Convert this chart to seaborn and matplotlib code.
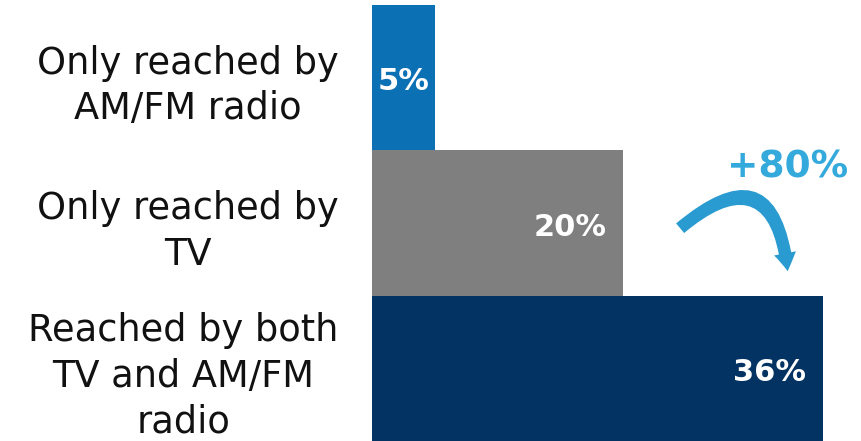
import matplotlib
matplotlib.use("Agg")
import matplotlib.pyplot as plt
import seaborn as sns
import pandas as pd
from matplotlib.patches import FancyArrowPatch

categories = ["Only reached by\nAM/FM radio", "Only reached by\nTV", "Reached by both\nTV and AM/FM\nradio"]
values = [5, 20, 36]
value_labels = ["5%", "20%", "36%"]
bar_colors = ["#0B70B4", "#7F7F7F", "#023362"]
change_label = "+80%"

df = pd.DataFrame({"category": categories, "value": values})

sns.set_style("white")
plt.rcParams["font.family"] = ["DejaVu Sans"]

fig = plt.figure(figsize=(8.62, 4.41), dpi=100)
ax = fig.add_axes([372 / 862, 0, 1 - 372 / 862, 436 / 441])

sns.barplot(data=df, x="value", y="category", hue="category", palette=bar_colors,
            orient="h", width=1.0, legend=False, ax=ax, saturation=1, linewidth=0)

ax.set_xlim(0, (862 - 372) / 12.53)
ax.set_ylim(2.5, -0.5)
ax.set_xlabel("")
ax.set_ylabel("")
ax.set_xticks([])
for s in ax.spines.values():
    s.set_visible(False)
ax.tick_params(axis="y", length=0, pad=24)
for lab in ax.get_yticklabels():
    lab.set_fontsize(26.5)
    lab.set_multialignment("center")
    lab.set_linespacing(1.3)
    lab.set_color("#111111")

offsets = [-5, -16, -17]
for i, (v, t) in enumerate(zip(values, value_labels)):
    ax.annotate(t, xy=(v, i), xytext=(offsets[i] * 0.72, -3), textcoords="offset points",
                ha="right", va="center", color="white", fontsize=22, fontweight="bold")

fig.text(788 / 862, 1 - 168 / 441, change_label, ha="center", va="center",
         color="#33A9DC", fontsize=27, fontweight="bold")

arrow = FancyArrowPatch((678 / 862, 1 - 230 / 441), (788 / 862, 1 - 274 / 441),
                        transform=fig.transFigure,
                        connectionstyle="arc3,rad=-0.95",
                        arrowstyle="simple,head_width=16,head_length=13,tail_width=9",
                        color="#2A9BD0", lw=0)
fig.patches.append(arrow)

fig.savefig("out.png", dpi=100)
